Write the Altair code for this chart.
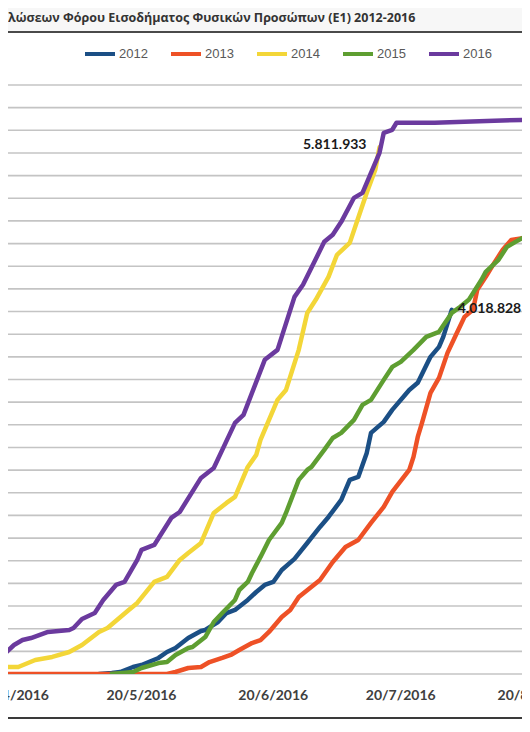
import altair as alt
import pandas as pd

title_text = "λώσεων Φόρου Εισοδήματος Φυσικών Προσώπων (Ε1) 2012-2016"
series_names = ["2012", "2013", "2014", "2015", "2016"]
colors = ["#1b4f85", "#ee5126", "#f3d638", "#5e9e31", "#6b3a9e"]

dates_2012 = ["05-10", "05-13", "05-15", "05-18", "05-20", "05-24", "05-26", "05-28", "05-31", "06-03",
              "06-04", "06-07", "06-09", "06-11", "06-14", "06-16", "06-18", "06-20", "06-22", "06-25",
              "06-28", "07-01", "07-03", "07-06", "07-08", "07-10", "07-12", "07-13", "07-16", "07-18",
              "07-22", "07-24", "07-27", "07-29", "07-30", "08-01"]
values_2012 = [0, 11000, 22000, 77000, 99000, 177000, 243000, 287000, 397000, 475000,
               486000, 574000, 673000, 707000, 817000, 905000, 983000, 1016000, 1148000, 1270000,
               1446000, 1623000, 1733000, 1921000, 2142000, 2175000, 2440000, 2661000, 2782000, 2915000,
               3135000, 3213000, 3500000, 3610000, 3720000, 4018828]

dates_2013 = ["04-17", "05-26", "05-28", "05-31", "06-03", "06-05", "06-08", "06-10", "06-12", "06-15",
              "06-17", "06-19", "06-22", "06-24", "06-26", "07-01", "07-04", "07-07", "07-10", "07-13",
              "07-16", "07-18", "07-22", "07-23", "07-24", "07-25", "07-27", "07-29", "07-31", "08-02",
              "08-04", "08-06", "08-07", "08-09", "08-11", "08-13", "08-15", "08-18", "08-19", "08-21"]
values_2013 = [0, 0, 22000, 66000, 77000, 132000, 177000, 210000, 265000, 342000,
               375000, 464000, 629000, 707000, 850000, 1038000, 1236000, 1402000, 1479000, 1667000,
               1844000, 2009000, 2252000, 2396000, 2616000, 2771000, 3102000, 3268000, 3544000, 3743000,
               3941000, 4019000, 4239000, 4383000, 4537000, 4681000, 4791000, 4813000, 4880000, 4960000]

dates_2014 = ["04-17", "04-21", "04-25", "04-29", "05-03", "05-06", "05-10", "05-12", "05-17", "05-19",
              "05-23", "05-26", "05-29", "05-31", "06-03", "06-06", "06-09", "06-11", "06-14", "06-16",
              "06-17", "06-21", "06-23", "06-26", "06-28", "06-30", "07-03", "07-05", "07-08", "07-10",
              "07-12", "07-14", "07-15"]
values_2014 = [77000, 77000, 155000, 188000, 243000, 320000, 464000, 508000, 707000, 784000,
               1016000, 1071000, 1259000, 1336000, 1446000, 1777000, 1888000, 1954000, 2285000, 2418000,
               2583000, 3025000, 3135000, 3577000, 3985000, 4129000, 4383000, 4626000, 4758000, 5034000,
               5310000, 5564000, 5811933]

dates_2015 = ["05-13", "05-18", "05-20", "05-24", "05-26", "05-28", "05-31", "06-01", "06-04", "06-06",
              "06-08", "06-11", "06-12", "06-14", "06-15", "06-17", "06-19", "06-22", "06-23", "06-26",
              "06-28", "06-29", "07-02", "07-04", "07-06", "07-09", "07-11", "07-13", "07-16", "07-18",
              "07-20", "07-23", "07-26", "07-29", "08-01", "08-03", "08-05", "08-08", "08-09", "08-12",
              "08-14", "08-16", "08-19", "08-21"]
values_2015 = [0, 22000, 66000, 121000, 132000, 210000, 287000, 298000, 408000, 574000,
               673000, 817000, 927000, 1016000, 1115000, 1292000, 1479000, 1667000, 1777000, 2142000,
               2252000, 2285000, 2473000, 2605000, 2661000, 2804000, 2970000, 3025000, 3246000, 3389000,
               3444000, 3577000, 3720000, 3776000, 3985000, 4052000, 4129000, 4350000, 4438000, 4571000,
               4714000, 4769000, 4847000, 4950000]

dates_2016 = ["04-17", "04-20", "04-22", "04-24", "04-28", "05-03", "05-04", "05-06", "05-08", "05-09",
              "05-11", "05-14", "05-16", "05-19", "05-20", "05-23", "05-27", "05-29", "06-03", "06-06",
              "06-11", "06-13", "06-18", "06-21", "06-25", "06-27", "07-02", "07-04", "07-06", "07-09",
              "07-11", "07-15", "07-16", "07-18", "07-19", "07-28", "08-11", "08-21"]
values_2016 = [188000, 320000, 375000, 397000, 464000, 486000, 508000, 607000, 651000, 673000,
               817000, 983000, 1016000, 1259000, 1369000, 1424000, 1722000, 1788000, 2164000, 2274000,
               2771000, 2859000, 3467000, 3577000, 4162000, 4295000, 4769000, 4847000, 4990000, 5255000,
               5310000, 5752000, 5973000, 6006000, 6083000, 6083000, 6105000, 6120000]

tick_dates = ["04-20", "05-20", "06-20", "07-20", "08-20"]
tick_labels = ["20/4/2016", "20/5/2016", "20/6/2016", "20/7/2016", "20/8/2016"]
grid_values = [0, 250000, 500000, 750000, 1000000, 1250000, 1500000, 1750000, 2000000,
               2250000, 2500000, 2750000, 3000000, 3250000, 3500000, 3750000, 4000000,
               4250000, 4500000, 4750000, 5000000, 5250000, 5500000, 5750000, 6000000,
               6250000, 6500000]

W = 514
H = 589
PT = 77

def ts(md):
    return f"2016-{md}T00:00"

rows = []
for name, ds, vs in zip(series_names,
                        [dates_2012, dates_2013, dates_2014, dates_2015, dates_2016],
                        [values_2012, values_2013, values_2014, values_2015, values_2016]):
    for d, v in zip(ds, vs):
        rows.append({"year": name, "date": ts(d), "value": v})
df = pd.DataFrame(rows)

x_scale = alt.Scale(domain=[alt.DateTime(year=2016, month=4, date=18, hours=14, minutes=7),
                            alt.DateTime(year=2016, month=8, date=17, hours=12, minutes=43)])
y_scale = alt.Scale(domain=[0, 6500000], nice=False, zero=True)

tick_values = [alt.DateTime(year=2016, month=int(d[:2]), date=int(d[3:])) for d in tick_dates[:-1]]

grid = alt.Chart(pd.DataFrame({"g": grid_values})).mark_rule(color="#c4c4c4", strokeWidth=1.6).encode(
    y=alt.Y("g:Q", scale=y_scale, axis=None), x=alt.value(0), x2=alt.value(W))

lines = alt.Chart(df).mark_line(clip=True, strokeWidth=4.5, strokeJoin="round", strokeCap="round").encode(
    x=alt.X("date:T", scale=x_scale,
            axis=alt.Axis(values=tick_values, labels=False, grid=False, ticks=True, tickSize=6,
                          tickColor="#bdbdbd", tickWidth=1.5, domainColor="#bdbdbd", domainWidth=1.6,
                          title=None)),
    y=alt.Y("value:Q", scale=y_scale, axis=None),
    color=alt.Color("year:N", scale=alt.Scale(domain=series_names, range=colors),
                    legend=alt.Legend(title=None, orient="none", legendX=75, legendY=-48,
                                      direction="horizontal", symbolType="stroke", symbolSize=900,
                                      symbolStrokeWidth=4, labelFont="Liberation Sans", labelFontSize=13,
                                      labelColor="#595959", labelOffset=2, columnPadding=15, padding=0)),
    order=alt.Order("date:T"),
)

xlab_df = pd.DataFrame({"date": [ts(d) for d in tick_dates], "label": tick_labels})
xlabels = alt.Chart(xlab_df).mark_text(font="Lato", fontWeight="bold", fontSize=14, color="#404040",
                                       baseline="middle", align="center").encode(
    x=alt.X("date:T", scale=x_scale, axis=None),
    y=alt.value(H + 22),
    text="label:N",
)

def fmt(v):
    return f"{v:,}".replace(",", ".")

lab14 = pd.DataFrame({"date": [ts(dates_2014[-1])], "value": [values_2014[-1]], "label": [fmt(values_2014[-1])]})
lab12 = pd.DataFrame({"date": [ts(dates_2012[-1])], "value": [values_2012[-1]], "label": [fmt(values_2012[-1])]})

t14 = alt.Chart(lab14).mark_text(align="right", dx=-13, dy=-2, font="Lato", fontWeight="bold",
                                 fontSize=14, color="#1a1a1a", baseline="middle").encode(
    x=alt.X("date:T", scale=x_scale, axis=None), y=alt.Y("value:Q", scale=y_scale, axis=None), text="label:N")
t12 = alt.Chart(lab12).mark_text(align="left", dx=6, dy=-1, font="Lato", fontWeight="bold",
                                 fontSize=14, color="#1a1a1a", baseline="middle").encode(
    x=alt.X("date:T", scale=x_scale, axis=None), y=alt.Y("value:Q", scale=y_scale, axis=None), text="label:N")

deco = pd.DataFrame({"k": [0]})
band = alt.Chart(deco).mark_rect(color="#f7f7f7").encode(
    x=alt.value(0), x2=alt.value(W), y=alt.value(-PT), y2=alt.value(-54))
sep = alt.Chart(deco).mark_rule(color="#4a4a4a", strokeWidth=2).encode(
    x=alt.value(0), x2=alt.value(W), y=alt.value(-53))
bottom = alt.Chart(deco).mark_rule(color="#3a3a3a", strokeWidth=2).encode(
    x=alt.value(0), x2=alt.value(W), y=alt.value(H + 44))
title = alt.Chart(pd.DataFrame({"t": [title_text]})).mark_text(
    align="left", baseline="middle", font="Open Sans", fontWeight="bold", fontSize=12.5,
    color="#333333").encode(x=alt.value(0), y=alt.value(-67), text="t:N")

chart = alt.layer(band, sep, title, grid, lines, xlabels, t14, t12, bottom).properties(
    width=W, height=H,
    padding={"left": 0, "top": PT, "right": 0, "bottom": 46},
    autosize=alt.AutoSizeParams(type="none"),
    background="white",
).configure_view(stroke=None)

chart.save("out.html", embed_options={"renderer": "svg", "actions": False})
